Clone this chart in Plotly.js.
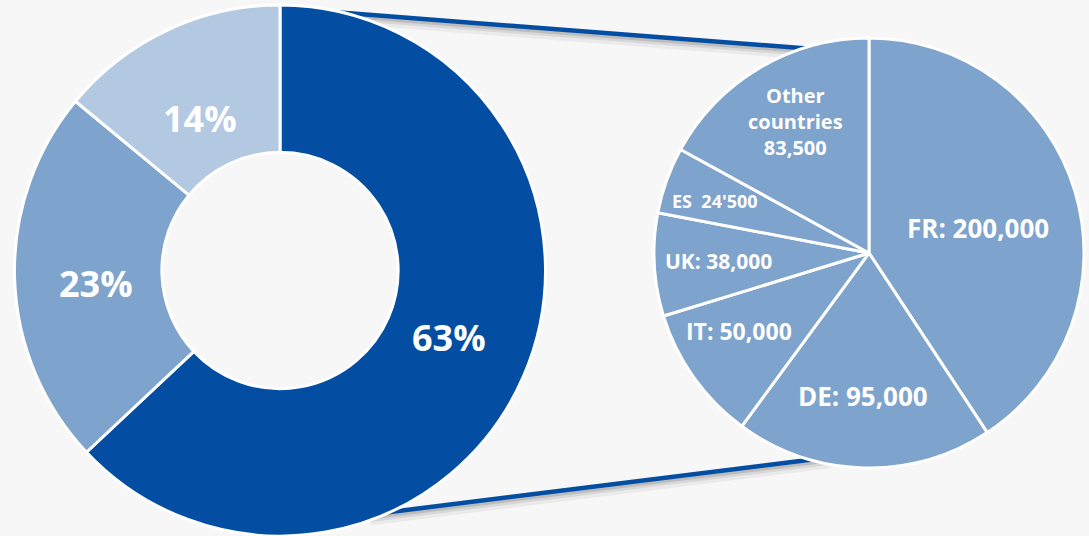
<!DOCTYPE html>
<html>
<head>
<meta charset="utf-8">
<script src="https://cdn.plot.ly/plotly-3.0.1.min.js"></script>
<style>
html,body{margin:0;padding:0;background:#f7f7f7;}
#chart{width:1089px;height:536px;}
</style>
</head>
<body>
<div id="chart"></div>
<script>
// ---- data ----
const donutCategories = ['Europe (detail)', 'Segment B', 'Segment C'];
const donutValues = [63, 23, 14];
const donutText = ['63%', '23%', '14%'];

const countries = ['FR', 'DE', 'IT', 'UK', 'ES', 'Other countries'];
const countryValues = [200000, 95000, 50000, 38000, 24500, 83500];
const countryText = ['FR: 200,000', 'DE: 95,000', 'IT: 50,000', 'UK: 38,000', "ES  24'500", 'Other<br>countries<br>83,500'];

// ---- layout helpers ----
const W = 1089, H = 536;
const px = (x) => x / W;
const py = (y) => 1 - y / H;

const DARK = '#034ea2', MID = '#7ea3cc', LIGHT = '#b3c8e1', BG = '#f7f7f7';

const donut = {
  type: 'pie',
  labels: donutCategories,
  values: donutValues,
  hole: 0.445,
  sort: false,
  direction: 'clockwise',
  rotation: 0,
  textinfo: 'none',
  hoverinfo: 'none',
  marker: {colors: [DARK, MID, LIGHT], line: {color: '#ffffff', width: 3}},
  domain: {x: [px(14), px(546)], y: [0, py(5)]},
  showlegend: false
};

const pie = {
  type: 'pie',
  labels: countries,
  values: countryValues,
  sort: false,
  direction: 'clockwise',
  rotation: 0,
  textinfo: 'none',
  hoverinfo: 'none',
  marker: {colors: countries.map(() => MID), line: {color: '#ffffff', width: 3}},
  domain: {x: [px(654), px(1084)], y: [py(468), py(38)]},
  showlegend: false
};

// label placement (pixel positions, sizes)
const donutLabelPos = [[449, 337, 36], [96, 283, 36], [200, 118, 36]];
const pieLabelPos = [[978, 228, 26], [863, 396, 26], [739, 331, 23], [718, 261, 21], [715, 201, 18], [795, 121, 20]];

const annotations = [];
donutText.forEach((t, i) => {
  const p = donutLabelPos[i];
  annotations.push({xref: 'paper', yref: 'paper', x: px(p[0]), y: py(p[1]), xanchor: 'center', yanchor: 'middle',
    text: '<b>' + t + '</b>', showarrow: false, font: {family: 'Open Sans', size: p[2], color: '#ffffff'}});
});
countryText.forEach((t, i) => {
  const p = pieLabelPos[i];
  annotations.push({xref: 'paper', yref: 'paper', x: px(p[0]), y: py(p[1]), xanchor: 'center', yanchor: 'middle',
    text: '<b>' + t + '</b>', showarrow: false, align: 'center',
    font: {family: 'Open Sans', size: p[2], color: '#ffffff'}});
});

// connector lines with soft shadow (drawn below the pies)
function connector(x0, y0, x1, y1) {
  const out = [];
  const shadows = [[6, 10, 'rgba(0,0,0,0.05)'], [4, 7, 'rgba(0,0,0,0.08)'], [3, 4, 'rgba(0,0,0,0.12)']];
  shadows.forEach(s => out.push({type: 'line', xref: 'paper', yref: 'paper', layer: 'below',
    x0: px(x0), y0: py(y0 + s[0]), x1: px(x1), y1: py(y1 + s[0]), line: {color: s[2], width: s[1]}}));
  out.push({type: 'line', xref: 'paper', yref: 'paper', layer: 'below',
    x0: px(x0), y0: py(y0), x1: px(x1), y1: py(y1), line: {color: DARK, width: 4.5}});
  return out;
}
const topSlope = (48 - 14) / (800 - 358);
const botSlope = (461 - 512) / (800 - 390);
const shapes = [].concat(
  connector(340, 14 - 18 * topSlope, 830, 14 + (830 - 358) * topSlope),
  connector(370, 512 - 20 * botSlope, 830, 512 + (830 - 390) * botSlope)
);

const layout = {
  width: W, height: H,
  margin: {l: 0, r: 0, t: 0, b: 0},
  paper_bgcolor: BG,
  plot_bgcolor: BG,
  showlegend: false,
  annotations: annotations,
  shapes: shapes
};

Plotly.newPlot('chart', [donut, pie], layout, {displayModeBar: false, staticPlot: true});
</script>
</body>
</html>
